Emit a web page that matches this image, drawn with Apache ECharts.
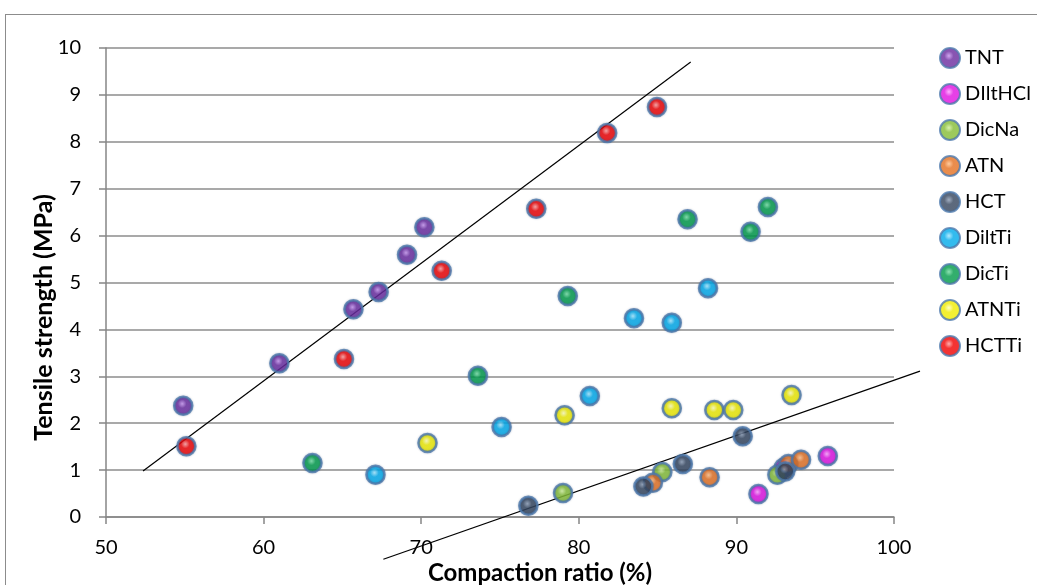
<!DOCTYPE html>
<html>
<head>
<meta charset="utf-8">
<script src="https://cdn.jsdelivr.net/npm/echarts@6/dist/echarts.min.js"></script>
<style>
html,body{margin:0;padding:0;background:#fff;overflow:hidden;}
#frame{position:absolute;left:5px;top:14px;width:1040px;height:580px;border:1px solid #8c8c8c;box-sizing:border-box;}
#chart{position:absolute;left:0;top:0;width:1037px;height:585px;}
</style>
</head>
<body>
<div id="frame"></div>
<div id="chart"></div>
<script>
// Data (x: compaction ratio %, y: tensile strength MPa)
const TNT     = [[54.9,2.37],[61.0,3.28],[65.7,4.43],[67.3,4.80],[69.1,5.59],[70.2,6.18]];
const DIltHCl = [[91.4,0.49],[93.0,1.05],[95.8,1.30]];
const DicNa   = [[79.0,0.51],[85.3,0.96],[92.6,0.90]];
const ATN     = [[84.7,0.73],[88.3,0.85],[93.3,1.13],[94.1,1.22]];
const HCT     = [[76.8,0.24],[84.1,0.65],[86.6,1.13],[90.4,1.72],[93.1,0.97]];
const DiltTi  = [[67.1,0.90],[75.1,1.92],[80.7,2.58],[83.5,4.24],[85.9,4.14],[88.2,4.88]];
const DicTi   = [[63.1,1.15],[73.6,3.01],[79.3,4.71],[86.9,6.35],[90.9,6.08],[92.0,6.61]];
const ATNTi   = [[70.4,1.58],[79.1,2.17],[85.9,2.32],[88.6,2.28],[89.8,2.28],[93.5,2.60]];
const HCTTi   = [[55.1,1.51],[65.1,3.37],[71.3,5.25],[77.3,6.57],[81.8,8.19],[84.96,8.74]];
const trend1  = [[52.35,0.98],[87.1,9.70]];
const trend2  = [[67.6,-0.90],[101.65,3.11]];
const xTicks  = [50,60,70,80,90,100];
const yTicks  = [0,1,2,3,4,5,6,7,8,9,10];

const seriesDefs = [
  ['TNT', TNT, '#6a2a9e', '#c490ec', '#2e0c50'],
  ['DIltHCl', DIltHCl, '#e010e0', '#ff9cff', '#7a047a'],
  ['DicNa', DicNa, '#84bc34', '#d0f09a', '#3e6810'],
  ['ATN', ATN, '#e47020', '#ffbe86', '#7e3406'],
  ['HCT', HCT, '#34445c', '#8a9ab2', '#141c2a'],
  ['DiltTi', DiltTi, '#00aaea', '#a0e6ff', '#02587e'],
  ['DicTi', DicTi, '#009a48', '#70dca0', '#024a22'],
  ['ATNTi', ATNTi, '#f0ec00', '#ffffb8', '#8a8600'],
  ['HCTTi', HCTTi, '#f00000', '#ff9a9a', '#820000']
];

function ball(base, light, dark){
  return {type:'radial', x:0.45, y:0.4, r:0.6,
    colorStops:[{offset:0,color:light},{offset:0.35,color:base},{offset:0.8,color:base},{offset:1,color:dark}]};
}

const series = seriesDefs.map(function(d){
  return {
    name:d[0], type:'scatter', data:d[1], symbol:'circle', symbolSize:18,
    xAxisIndex:0, yAxisIndex:0,
    itemStyle:{color:ball(d[2],d[3],d[4]), borderColor:'#4f7aae', borderWidth:2.5,
      shadowBlur:2, shadowColor:'rgba(30,60,100,0.4)'},
    emphasis:{disabled:true}, z:3
  };
});
// trend lines drawn on a second, hidden cartesian with the same scale but a wider extent
[trend1, trend2].forEach(function(t){
  series.push({type:'line', data:t, symbol:'none', clip:false, silent:true,
    xAxisIndex:1, yAxisIndex:1,
    lineStyle:{color:'#000', width:1.2}, z:2});
});

// pixel scale of main grid: 788px per 50 units x, 469px per 10 units y
const chart = echarts.init(document.getElementById('chart'), null, {renderer:'canvas'});
chart.setOption({
  animation:false,
  backgroundColor:'transparent',
  textStyle:{fontFamily:'Lato, "Open Sans", sans-serif'},
  grid:[
    {left:106, right:143, top:48, bottom:68, containLabel:false, outerBoundsMode:'none'},
    {left:106, right:143-31.52, top:48, bottom:68-46.9, containLabel:false, outerBoundsMode:'none'}
  ],
  xAxis:[{type:'value', gridIndex:0, min:xTicks[0], max:xTicks[xTicks.length-1], interval:10,
    axisLine:{onZero:false, lineStyle:{color:'#868686', width:1.5}},
    axisTick:{show:true, length:7, lineStyle:{color:'#868686', width:1.5}},
    splitLine:{show:false},
    axisLabel:{color:'#000', fontSize:20, margin:21, fontFamily:'Lato'},
    name:'Compaction ratio (%)', nameLocation:'middle', nameGap:44, nameMoveOverlap:false,
    nameTextStyle:{color:'#000', fontSize:24, fontWeight:'bold', fontFamily:'Lato', padding:[0,0,0,80]}
  },{type:'value', gridIndex:1, min:50, max:102, show:false}],
  yAxis:[{type:'value', gridIndex:0, min:yTicks[0], max:yTicks[yTicks.length-1], interval:1,
    axisLine:{show:true, lineStyle:{color:'#868686', width:1.5}},
    axisTick:{show:true, length:7, lineStyle:{color:'#868686', width:1.5}},
    splitLine:{show:true, lineStyle:{color:'#8c8c8c', width:1.5}},
    axisLabel:{color:'#000', fontSize:20, margin:25, fontFamily:'Lato'},
    name:'Tensile strength (MPa)', nameLocation:'middle', nameGap:50, nameRotate:90, nameMoveOverlap:false,
    nameTextStyle:{color:'#000', fontSize:25, fontWeight:'bold', fontFamily:'Lato', padding:[0,70,0,0]}
  },{type:'value', gridIndex:1, min:-1, max:10, show:false}],
  legend:{orient:'vertical', left:934, top:42, itemWidth:20, itemHeight:20, itemGap:14,
    icon:'circle', selectedMode:false,
    data:seriesDefs.map(function(d){return d[0];}),
    textStyle:{color:'#000', fontSize:20, lineHeight:20, fontFamily:'Lato'}
  },
  series:series
});
</script>
</body>
</html>
